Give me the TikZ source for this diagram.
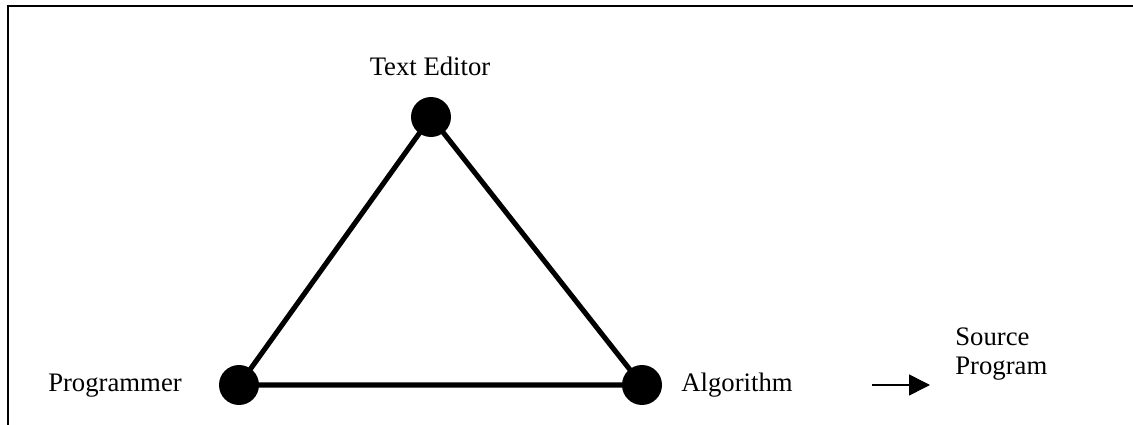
\documentclass[tikz,border=0pt]{standalone}
\usepackage{fontspec}
\setmainfont{Liberation Serif}
\usepackage{tikz}
\usetikzlibrary{positioning,arrows.meta}

\begin{document}
\begin{tikzpicture}[x=0.02cm,y=-0.02cm,>={Triangle[length=0.42cm,width=0.42cm]},
    font=\fontsize{15.2}{17}\selectfont]
        \tikzset{dot/.style={circle,fill=black,minimum size=0.8cm,inner sep=0pt},
                 lbl/.style={anchor=base,inner sep=0pt}}
        \useasboundingbox (0,0) rectangle (1133,425);
        \draw[line width=0.85pt] (1133,6) -- (8,6) -- (8,425);
        \node[dot] (e) at (431,117) {};
        \node[dot] (p) at (239,385) {};
        \node[dot] (a) at (642,385) {};
        \node[lbl] (el) at (430,76) {Text Editor};
        \node[lbl] (pl) at (115,392) {Programmer};
        \node[lbl] (al) at (737,392) {Algorithm};
        \node[lbl,anchor=base west,align=left] (sl) at (955,375) {Source\\Program};
        \draw[line width=2.9pt] (p.center) -- (e.center) -- (a.center) -- cycle;
        \coordinate (t0) at (872,385);
        \coordinate (t1) at (930,385);
        \draw[->,line width=0.9pt] (t0) -- (t1);
      \end{tikzpicture}
\end{document}
